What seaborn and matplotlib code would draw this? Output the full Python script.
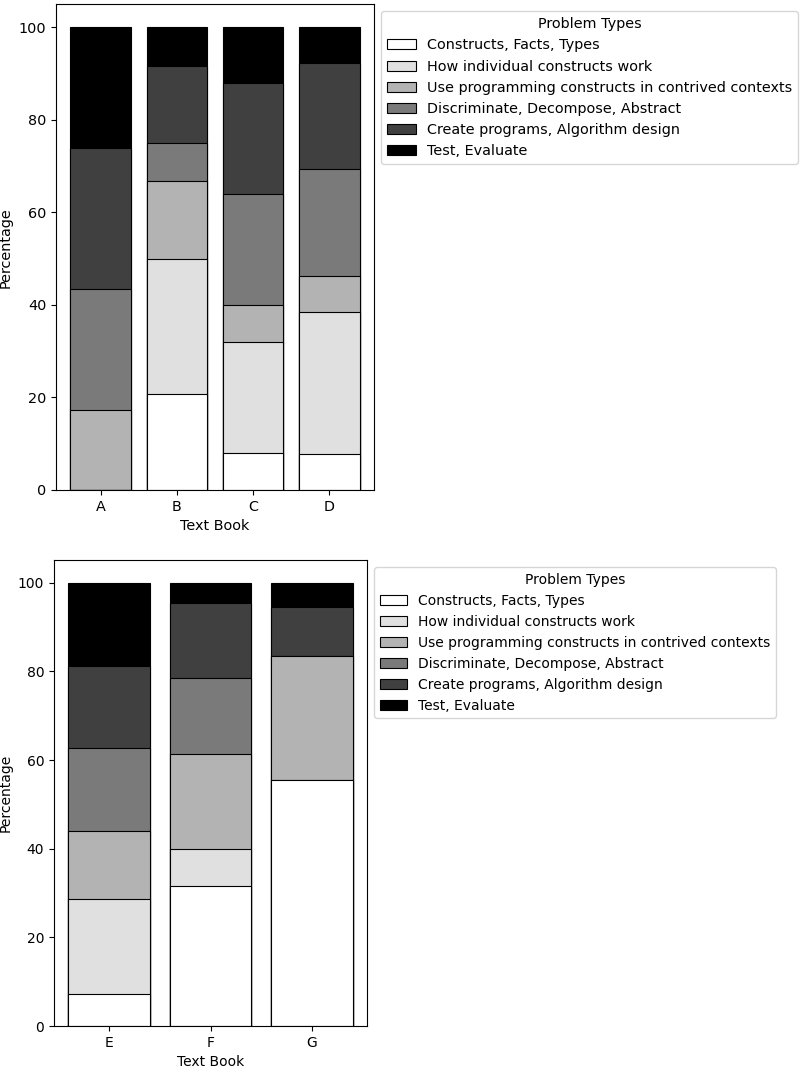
import numpy as np
import pandas as pd
import seaborn as sns
import matplotlib.pyplot as plt
from matplotlib.patches import Patch

# Problem type kategorileri ve renkler (alttan üste)
types = ['Constructs, Facts, Types',
         'How individual constructs work',
         'Use programming constructs in contrived contexts',
         'Discriminate, Decompose, Abstract',
         'Create programs, Algorithm design',
         'Test, Evaluate']
colors = ['#ffffff', '#e0e0e0', '#b3b3b3', '#7a7a7a', '#404040', '#000000']

# Üst grafik: A-D
books_top = ['A', 'B', 'C', 'D']
constructs_top = [0.0, 20.8, 8.0, 7.7]
how_top = [0.0, 29.2, 24.0, 30.8]
use_top = [17.4, 16.7, 8.0, 7.7]
discrim_top = [26.1, 8.3, 24.0, 23.1]
create_top = [30.4, 16.7, 24.0, 23.1]
test_top = [26.1, 8.3, 12.0, 7.7]

# Alt grafik: E-G
books_bottom = ['E', 'F', 'G']
constructs_bottom = [7.3, 31.5, 55.6]
how_bottom = [21.4, 8.5, 0.0]
use_bottom = [15.4, 21.4, 27.8]
discrim_bottom = [18.6, 17.0, 0.0]
create_bottom = [18.4, 17.0, 11.1]
test_bottom = [18.9, 4.6, 5.5]


def stacked(ax, books, series, fs=10):
    df = pd.DataFrame(dict(zip(types, series)), index=books)
    cum = df.cumsum(axis=1)
    # üstten alta doğru çiz, alttaki çubuklar üstü örtsün
    for name, col in reversed(list(zip(types, colors))):
        sns.barplot(x=books, y=cum[name].values, color=col, saturation=1,
                    edgecolor='black', linewidth=0.8, errorbar=None, ax=ax)
    n = len(books)
    pad = 0.05 * (n - 0.2)
    ax.set_xlim(-0.4 - pad, n - 0.6 + pad)
    ax.set_ylim(0, 105)
    ax.set_xlabel('Text Book', fontsize=fs)
    ax.set_ylabel('Percentage', fontsize=fs)
    ax.tick_params(labelsize=fs)
    handles = [Patch(facecolor=c, edgecolor='black', linewidth=0.8, label=t)
               for t, c in zip(types, colors)]
    ax.legend(handles=handles, title='Problem Types', fontsize=fs,
              title_fontsize=fs, bbox_to_anchor=(1, 1), loc='upper left')


fig = plt.figure(figsize=(8, 10.68), dpi=100)
ax1 = fig.add_axes([0.07, 0.5412, 0.3975, 0.4548])
ax2 = fig.add_axes([0.0675, 0.0393, 0.39125, 0.4359])

stacked(ax1, books_top, [constructs_top, how_top, use_top,
                         discrim_top, create_top, test_top], fs=10.35)
stacked(ax2, books_bottom, [constructs_bottom, how_bottom, use_bottom,
                            discrim_bottom, create_bottom, test_bottom], fs=10)

fig.savefig('out.png', dpi=100)
